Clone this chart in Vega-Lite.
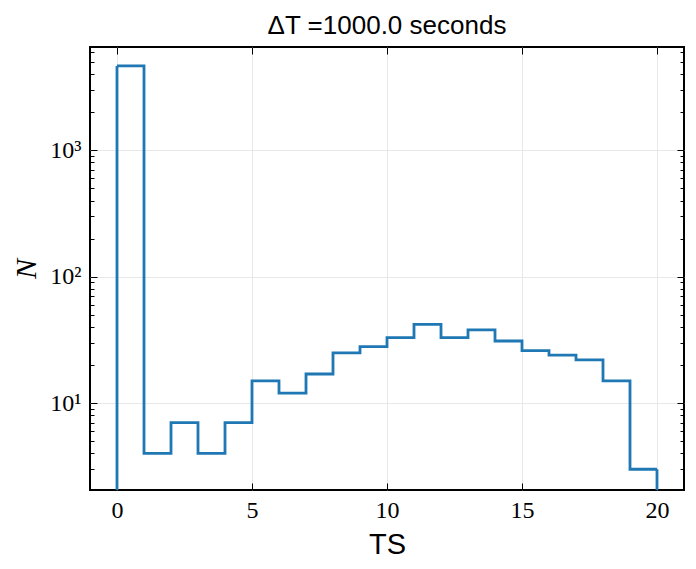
{
  "$schema": "https://vega.github.io/schema/vega-lite/v6.json",
  "autosize": "none",
  "width": 594,
  "height": 443,
  "padding": {"left": 90, "top": 47, "right": 12, "bottom": 79},
  "background": "white",
  "title": {
    "text": "ΔT =1000.0 seconds",
    "font": "Liberation Sans",
    "fontSize": 26,
    "fontWeight": "normal",
    "color": "black",
    "baseline": "alphabetic",
    "offset": -13
  },
  "data": {
    "values": [
      {"bin_start": 0, "bin_end": 1, "count": 4640},
      {"bin_start": 1, "bin_end": 2, "count": 4},
      {"bin_start": 2, "bin_end": 3, "count": 7},
      {"bin_start": 3, "bin_end": 4, "count": 4},
      {"bin_start": 4, "bin_end": 5, "count": 7},
      {"bin_start": 5, "bin_end": 6, "count": 15},
      {"bin_start": 6, "bin_end": 7, "count": 12},
      {"bin_start": 7, "bin_end": 8, "count": 17},
      {"bin_start": 8, "bin_end": 9, "count": 25},
      {"bin_start": 9, "bin_end": 10, "count": 28},
      {"bin_start": 10, "bin_end": 11, "count": 33},
      {"bin_start": 11, "bin_end": 12, "count": 42},
      {"bin_start": 12, "bin_end": 13, "count": 33},
      {"bin_start": 13, "bin_end": 14, "count": 38},
      {"bin_start": 14, "bin_end": 15, "count": 31},
      {"bin_start": 15, "bin_end": 16, "count": 26},
      {"bin_start": 16, "bin_end": 17, "count": 24},
      {"bin_start": 17, "bin_end": 18, "count": 22},
      {"bin_start": 18, "bin_end": 19, "count": 15},
      {"bin_start": 19, "bin_end": 20, "count": 3}
    ]
  },
  "transform": [
    {"fold": ["bin_start", "bin_end"], "as": ["edge", "ts"]}
  ],
  "layer": [
    {
      "mark": {"type": "line", "color": "#1f77b4", "strokeWidth": 2.8, "strokeJoin": "miter", "clip": true},
      "encoding": {
        "x": {
          "field": "ts",
          "type": "quantitative",
          "scale": {"domain": [-1, 21], "nice": false, "zero": false},
          "axis": {
            "orient": "bottom",
            "values": [0, 5, 10, 15, 20],
            "title": "TS",
            "titleFont": "Liberation Sans",
            "titleFontSize": 29,
            "titleFontWeight": "normal",
            "titlePadding": 8,
            "grid": true,
            "tickSize": -7,
            "labelPadding": 15
          }
        },
        "y": {
          "field": "count",
          "type": "quantitative",
          "scale": {"type": "log", "domain": [2.056, 6546], "nice": false},
          "axis": {
            "orient": "left",
            "values": [2, 3, 4, 5, 6, 7, 8, 9, 10, 20, 30, 40, 50, 60, 70, 80, 90, 100, 200, 300, 400, 500, 600, 700, 800, 900, 1000, 2000, 3000, 4000, 5000, 6000],
            "labelExpr": "datum.value == 10 ? '10¹' : datum.value == 100 ? '10²' : datum.value == 1000 ? '10³' : ''",
            "title": "N",
            "titleFont": "Liberation Serif",
            "titleFontStyle": "italic",
            "titleFontSize": 30,
            "titleFontWeight": "normal",
            "titlePadding": 8,
            "grid": true,
            "gridOpacity": {"condition": {"test": "datum.value == 10 || datum.value == 100 || datum.value == 1000", "value": 1}, "value": 0},
            "tickSize": {"condition": {"test": "datum.value == 10 || datum.value == 100 || datum.value == 1000", "value": -7}, "value": -4},
            "labelPadding": 16
          }
        },
        "order": [{"field": "ts"}, {"field": "edge"}]
      }
    },
    {
      "transform": [
        {"filter": "(datum.edge == 'bin_start' && datum.ts == 0) || (datum.edge == 'bin_end' && datum.ts == 20)"}
      ],
      "mark": {"type": "rule", "color": "#1f77b4", "strokeWidth": 2.8, "clip": true},
      "encoding": {
        "x": {
          "field": "ts",
          "type": "quantitative",
          "axis": {"orient": "top", "values": [0, 5, 10, 15, 20], "labels": false, "title": null, "grid": false, "tickSize": -7}
        },
        "y": {
          "field": "count",
          "type": "quantitative",
          "axis": {
            "orient": "right",
            "values": [2, 3, 4, 5, 6, 7, 8, 9, 10, 20, 30, 40, 50, 60, 70, 80, 90, 100, 200, 300, 400, 500, 600, 700, 800, 900, 1000, 2000, 3000, 4000, 5000, 6000],
            "labels": false,
            "title": null,
            "grid": false,
            "tickSize": {"condition": {"test": "datum.value == 10 || datum.value == 100 || datum.value == 1000", "value": -7}, "value": -4}
          }
        },
        "y2": {"datum": 1}
      }
    }
  ],
  "resolve": {"axis": {"x": "independent", "y": "independent"}},
  "config": {
    "view": {"stroke": "black", "strokeWidth": 2},
    "axis": {
      "domain": false,
      "tickColor": "black",
      "tickWidth": 1,
      "labelFont": "Liberation Serif",
      "labelFontSize": 24,
      "labelColor": "black",
      "titleColor": "black",
      "gridColor": "#e8e8e8",
      "gridWidth": 1
    },
    "axisX": {"labelBaseline": "top"}
  }
}
